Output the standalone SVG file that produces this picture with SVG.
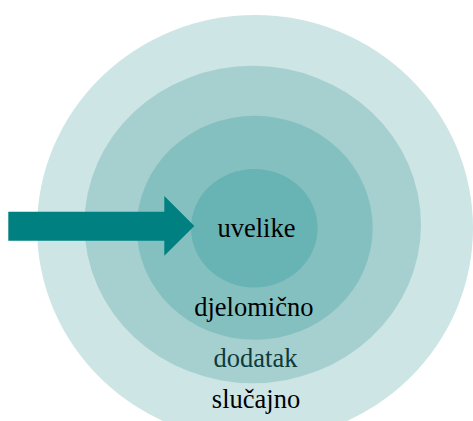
<svg xmlns="http://www.w3.org/2000/svg" width="473" height="421" viewBox="0 0 473 421">
<style>
.lbl{font-family:"Liberation Serif","Times New Roman",serif;font-size:26.5px;text-anchor:middle;fill:#000}
</style>
<rect width="473" height="421" fill="#fff"/>
<g id="ring-slucajno">
<ellipse cx="255" cy="228" rx="218" ry="213" fill="#CDE5E5"/>
</g>
<g id="ring-dodatak">
<ellipse cx="252.7" cy="224.5" rx="168.3" ry="158.7" fill="#A6D0D0"/>
</g>
<g id="ring-djelomicno">
<ellipse cx="254.7" cy="227.8" rx="118" ry="112" fill="#85C0C0"/>
</g>
<g id="ring-uvelike">
<ellipse cx="254.3" cy="228.2" rx="63.3" ry="59.2" fill="#68B3B3"/>
</g>
<g id="connectors">
<polygon points="8.3,211.7 164.3,211.7 164.3,196 194.3,226 164.3,255.8 164.3,240.7 8.3,240.7" fill="#008080"/>
</g>
<g id="labels">
<text class="lbl" x="256.5" y="237.3">uvelike</text>
<text class="lbl" x="253.8" y="315.5">djelomično</text>
<text class="lbl" x="255.5" y="367.3" fill="#0D3B3B" style="fill:#0D3B3B">dodatak</text>
<text class="lbl" x="256" y="408.3">slučajno</text>
</g>
</svg>
